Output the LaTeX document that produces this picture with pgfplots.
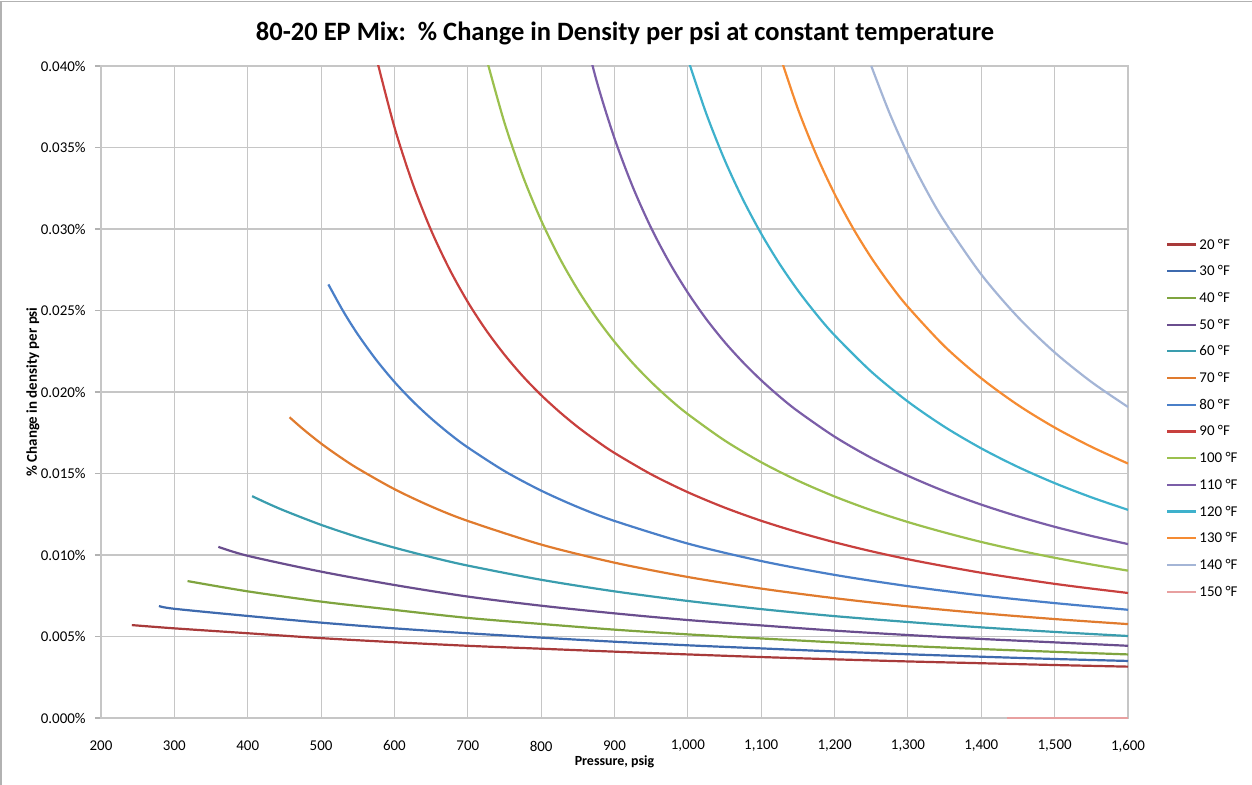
\documentclass[border=0pt]{standalone}
\usepackage{fontspec}
\setmainfont{Carlito}
\usepackage{pgfplots}
\pgfplotsset{compat=1.18}
\definecolor{c20}{HTML}{A83A3A}
\definecolor{c30}{HTML}{3E6AAE}
\definecolor{c40}{HTML}{7FA43F}
\definecolor{c50}{HTML}{6A4E8E}
\definecolor{c60}{HTML}{3A9DAE}
\definecolor{c70}{HTML}{E07B2E}
\definecolor{c80}{HTML}{4A7FC8}
\definecolor{c90}{HTML}{C8403E}
\definecolor{c100}{HTML}{9BC04E}
\definecolor{c110}{HTML}{7B5EA8}
\definecolor{c120}{HTML}{3EB1CC}
\definecolor{c130}{HTML}{F58B32}
\definecolor{c140}{HTML}{A4B5D6}
\definecolor{c150}{HTML}{E8A0A0}
\begin{document}
\begin{tikzpicture}
\path[use as bounding box] (0,0) rectangle (626bp,392.5bp);
\draw[gray!60, line width=0.8bp] (0.5bp,0) -- (0.5bp,391.8bp) -- (626bp,391.8bp);
\node[font=\fontsize{13.3}{16}\selectfont\bfseries] at (312.5bp,376bp) {80-20 EP Mix:\ \ \% Change in Density per psi at constant temperature};
\begin{axis}[
  at={(50.5bp,33.5bp)}, anchor=south west, scale only axis,
  width=513.5bp, height=326bp,
  xmin=200, xmax=1600, ymin=0, ymax=0.04,
  scaled y ticks=false, scaled x ticks=false,
  xtick={200,300,400,500,600,700,800,900,1000,1100,1200,1300,1400,1500,1600},
  xticklabels={200,300,400,500,600,700,800,900,{1,000},{1,100},{1,200},{1,300},{1,400},{1,500},{1,600}},
  ytick={0,0.005,0.01,0.015,0.02,0.025,0.03,0.035,0.04},
  yticklabels={0.000\%,0.005\%,0.010\%,0.015\%,0.020\%,0.025\%,0.030\%,0.035\%,0.040\%},
  grid=major, grid style={gray!45, line width=0.55bp},
  axis line style={gray!45, line width=0.55bp},
  tick align=outside, ytick pos=left, xtick pos=bottom,
  major tick length=3bp, ytick style={gray!60, line width=0.55bp}, xtick style={draw=none},
  tick label style={font=\fontsize{7.5}{9}\selectfont},
  xticklabel style={anchor=center, yshift=-11bp},
  yticklabel style={anchor=east, inner sep=0pt, xshift=-4.5bp},
  every axis x label/.style={at={(axis description cs:0.5,0)}, anchor=center, yshift=-22bp, font=\fontsize{7}{8}\selectfont\bfseries},
  every axis y label/.style={at={(axis description cs:-0.0662,0.5)}, anchor=center, rotate=90, font=\fontsize{7.5}{8}\selectfont\bfseries},
  xlabel={Pressure, psig},
  ylabel={\% Change in density per psi},
  legend style={at={(1.031,0.46)}, anchor=west, draw=none, fill=none,
    font=\fontsize{7.5}{9}\selectfont, row sep=3.85bp,
    nodes={inner sep=1bp, text height=6bp, text depth=1.5bp}},
  legend cell align=left,
  legend image code/.code={\draw[#1] (0bp,0bp) -- (14.5bp,0bp);},
  every axis plot/.append style={line width=1.1bp, smooth, no marks},
]
\addplot[c20] coordinates {(242,0.0057) (300,0.0055) (400,0.0052) (500,0.0049) (600,0.00465) (700,0.00443) (800,0.00425) (900,0.00407) (1000,0.0039) (1100,0.00374) (1200,0.0036) (1300,0.00347) (1400,0.00336) (1500,0.00325) (1600,0.00315)};
\addlegendentry{20 °F}
\addplot[c30] coordinates {(279,0.00687) (300,0.0067) (400,0.00626) (500,0.00585) (600,0.0055) (700,0.0052) (800,0.00493) (900,0.00468) (1000,0.00446) (1100,0.00427) (1200,0.00408) (1300,0.00391) (1400,0.00376) (1500,0.00362) (1600,0.0035)};
\addlegendentry{30 °F}
\addplot[c40] coordinates {(318,0.0084) (400,0.00777) (500,0.00714) (600,0.00663) (700,0.00614) (800,0.00577) (900,0.00542) (1000,0.00513) (1100,0.00488) (1200,0.00464) (1300,0.00442) (1400,0.00423) (1500,0.00406) (1600,0.0039)};
\addlegendentry{40 °F}
\addplot[c50] coordinates {(360,0.0105) (400,0.00995) (500,0.00898) (600,0.00816) (700,0.00745) (800,0.00689) (900,0.00642) (1000,0.00601) (1100,0.00568) (1200,0.00536) (1300,0.00509) (1400,0.00485) (1500,0.00464) (1600,0.00443)};
\addlegendentry{50 °F}
\addplot[c60] coordinates {(406,0.01361) (425,0.01321) (450,0.01272) (500,0.01185) (550,0.0111) (600,0.01045) (650,0.00987) (700,0.00935) (800,0.00848) (900,0.00777) (1000,0.00718) (1100,0.00668) (1200,0.00625) (1300,0.00589) (1400,0.00556) (1500,0.00528) (1600,0.00503)};
\addlegendentry{60 °F}
\addplot[c70] coordinates {(457,0.01845) (475,0.01774) (500,0.01684) (525,0.01604) (550,0.01531) (600,0.01404) (650,0.01298) (700,0.01209) (800,0.01064) (900,0.00953) (1000,0.00865) (1100,0.00794) (1200,0.00735) (1300,0.00685) (1400,0.00643) (1500,0.00607) (1600,0.00576)};
\addlegendentry{70 °F}
\addplot[c80] coordinates {(510,0.0266) (530,0.02497) (550,0.02354) (575,0.02198) (600,0.02062) (625,0.01943) (650,0.01838) (675,0.01744) (700,0.0166) (750,0.01515) (800,0.01395) (850,0.01294) (900,0.01209) (1000,0.0107) (1100,0.00963) (1200,0.00878) (1300,0.00809) (1400,0.00752) (1500,0.00705) (1600,0.00664)};
\addlegendentry{80 °F}
\addplot[c90] coordinates {(575,0.04057) (600,0.03625) (625,0.03277) (650,0.02992) (675,0.02754) (700,0.02552) (725,0.02379) (750,0.02229) (775,0.02097) (800,0.01981) (825,0.01878) (850,0.01785) (875,0.01702) (900,0.01626) (950,0.01495) (1000,0.01385) (1050,0.01291) (1100,0.0121) (1150,0.0114) (1200,0.01078) (1250,0.01023) (1300,0.00974) (1350,0.00931) (1400,0.00891) (1450,0.00856) (1500,0.00823) (1550,0.00794) (1600,0.00767)};
\addlegendentry{90 °F}
\addplot[c100] coordinates {(725,0.04053) (750,0.03652) (775,0.03325) (800,0.03053) (825,0.02823) (850,0.02627) (875,0.02457) (900,0.02308) (925,0.02177) (950,0.02061) (975,0.01957) (1000,0.01864) (1050,0.01703) (1100,0.01569) (1150,0.01456) (1200,0.01359) (1250,0.01275) (1300,0.01202) (1350,0.01138) (1400,0.0108) (1450,0.01029) (1500,0.00983) (1550,0.00942) (1600,0.00904)};
\addlegendentry{100 °F}
\addplot[c110] coordinates {(850,0.04366) (875,0.03918) (900,0.03556) (925,0.03257) (950,0.03006) (975,0.02793) (1000,0.02609) (1025,0.02448) (1050,0.02307) (1075,0.02183) (1100,0.02072) (1125,0.01972) (1150,0.01882) (1200,0.01726) (1250,0.01596) (1300,0.01486) (1350,0.01391) (1400,0.01309) (1450,0.01237) (1500,0.01173) (1550,0.01117) (1600,0.01067)};
\addlegendentry{110 °F}
\addplot[c120] coordinates {(1000,0.04043) (1025,0.03709) (1050,0.03425) (1075,0.03182) (1100,0.02971) (1125,0.02786) (1150,0.02623) (1175,0.02478) (1200,0.02348) (1250,0.02125) (1300,0.01941) (1350,0.01786) (1400,0.01654) (1450,0.0154) (1500,0.01441) (1550,0.01354) (1600,0.01277)};
\addlegendentry{120 °F}
\addplot[c130] coordinates {(1125,0.04072) (1150,0.03737) (1175,0.03456) (1200,0.03215) (1225,0.03006) (1250,0.02824) (1275,0.02664) (1300,0.02522) (1350,0.0228) (1400,0.02084) (1450,0.0192) (1500,0.01782) (1550,0.01664) (1600,0.01561)};
\addlegendentry{130 °F}
\addplot[c140] coordinates {(1250,0.0400) (1275,0.0371) (1300,0.03458) (1325,0.03239) (1350,0.03046) (1400,0.02721) (1450,0.02459) (1500,0.02243) (1550,0.02062) (1600,0.01908)};
\addlegendentry{140 °F}
\addplot[c150] coordinates {(1435,0) (1600,0)};
\addlegendentry{150 °F}
\end{axis}
\end{tikzpicture}
\end{document}
